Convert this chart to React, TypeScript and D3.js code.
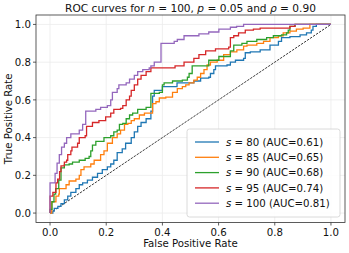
import React from "react";
import * as d3 from "d3";

// ROC knots: [fpr, tpr]; curve jumps up at each fpr
const roc80: [number, number][] = [
  [0, 0], [0.01, 0.01], [0.015, 0.025], [0.028, 0.035], [0.039, 0.05], [0.051, 0.07],
  [0.063, 0.09], [0.074, 0.11], [0.092, 0.13], [0.104, 0.15], [0.116, 0.16], [0.133, 0.175],
  [0.151, 0.19], [0.169, 0.21], [0.186, 0.23], [0.204, 0.245], [0.216, 0.26], [0.227, 0.28],
  [0.239, 0.32], [0.257, 0.34], [0.269, 0.37], [0.289, 0.4], [0.3, 0.43], [0.312, 0.46],
  [0.324, 0.48], [0.342, 0.5], [0.359, 0.54], [0.365, 0.62], [0.371, 0.65], [0.4, 0.67],
  [0.452, 0.69], [0.512, 0.7], [0.536, 0.715], [0.565, 0.72], [0.571, 0.74], [0.583, 0.76],
  [0.589, 0.78], [0.63, 0.785], [0.642, 0.8], [0.66, 0.81], [0.689, 0.82], [0.695, 0.85],
  [0.713, 0.855], [0.748, 0.865], [0.783, 0.89], [0.813, 0.91], [0.824, 0.93], [0.854, 0.935],
  [0.89, 0.945], [0.913, 0.955], [0.93, 0.97], [0.936, 0.99], [0.948, 1], [1, 1],
];
const roc85: [number, number][] = [
  [0, 0], [0.006, 0.06], [0.021, 0.09], [0.031, 0.1], [0.033, 0.13], [0.057, 0.15],
  [0.068, 0.17], [0.092, 0.18], [0.104, 0.2], [0.11, 0.23], [0.121, 0.245], [0.145, 0.26],
  [0.157, 0.28], [0.18, 0.31], [0.192, 0.33], [0.204, 0.37], [0.222, 0.4], [0.239, 0.42],
  [0.251, 0.44], [0.265, 0.47], [0.277, 0.475], [0.289, 0.49], [0.3, 0.5], [0.318, 0.52],
  [0.336, 0.53], [0.365, 0.58], [0.377, 0.59], [0.389, 0.61], [0.412, 0.615], [0.436, 0.64],
  [0.453, 0.66], [0.471, 0.67], [0.483, 0.68], [0.495, 0.69], [0.512, 0.705], [0.524, 0.72],
  [0.536, 0.74], [0.548, 0.76], [0.559, 0.785], [0.571, 0.8], [0.595, 0.81], [0.618, 0.84],
  [0.642, 0.855], [0.665, 0.865], [0.689, 0.885], [0.701, 0.89], [0.736, 0.9], [0.76, 0.91],
  [0.783, 0.93], [0.813, 0.94], [0.83, 0.955], [0.854, 0.965], [0.877, 0.975], [0.901, 0.98],
  [0.925, 1], [1, 1],
];
const roc90: [number, number][] = [
  [0, 0], [0, 0.02], [0.007, 0.06], [0.014, 0.1], [0.02, 0.13], [0.031, 0.175], [0.039, 0.24],
  [0.051, 0.255], [0.068, 0.26], [0.08, 0.27], [0.104, 0.28], [0.125, 0.29], [0.139, 0.3],
  [0.145, 0.33], [0.151, 0.36], [0.163, 0.38], [0.192, 0.4], [0.216, 0.41], [0.227, 0.43],
  [0.239, 0.44], [0.247, 0.47], [0.259, 0.475], [0.271, 0.5], [0.283, 0.52], [0.294, 0.53],
  [0.312, 0.55], [0.342, 0.56], [0.359, 0.635], [0.389, 0.64], [0.4, 0.68], [0.406, 0.69],
  [0.436, 0.7], [0.471, 0.705], [0.489, 0.72], [0.495, 0.74], [0.506, 0.78], [0.565, 0.81],
  [0.601, 0.83], [0.642, 0.86], [0.654, 0.89], [0.683, 0.9], [0.701, 0.91], [0.736, 0.92],
  [0.771, 0.93], [0.795, 0.94], [0.824, 0.945], [0.842, 0.955], [0.848, 0.97], [0.854, 0.99],
  [0.872, 1], [1, 1],
];
const roc95: [number, number][] = [
  [0, 0], [0, 0.09], [0.01, 0.11], [0.021, 0.16], [0.027, 0.18], [0.034, 0.22], [0.039, 0.25],
  [0.051, 0.27], [0.059, 0.28], [0.063, 0.31], [0.074, 0.33], [0.078, 0.35], [0.098, 0.37],
  [0.104, 0.4], [0.125, 0.41], [0.13, 0.46], [0.151, 0.48], [0.174, 0.49], [0.198, 0.51],
  [0.216, 0.53], [0.227, 0.55], [0.251, 0.555], [0.259, 0.57], [0.271, 0.6], [0.283, 0.62],
  [0.289, 0.65], [0.3, 0.68], [0.312, 0.71], [0.324, 0.73], [0.342, 0.75], [0.359, 0.77],
  [0.445, 0.78], [0.477, 0.8], [0.512, 0.82], [0.53, 0.84], [0.554, 0.86], [0.589, 0.87],
  [0.636, 0.88], [0.642, 0.93], [0.654, 0.94], [0.671, 0.955], [0.695, 0.97], [0.724, 0.975],
  [0.748, 0.98], [0.854, 0.99], [0.872, 1], [1, 1],
];
const roc100: [number, number][] = [
  [0, 0], [0, 0.16], [0.018, 0.21], [0.025, 0.265], [0.033, 0.31], [0.041, 0.35], [0.051, 0.37],
  [0.059, 0.4], [0.074, 0.42], [0.104, 0.44], [0.116, 0.47], [0.127, 0.54], [0.163, 0.55],
  [0.18, 0.56], [0.204, 0.57], [0.216, 0.6], [0.222, 0.64], [0.239, 0.66], [0.245, 0.68],
  [0.271, 0.69], [0.283, 0.71], [0.3, 0.73], [0.312, 0.75], [0.33, 0.76], [0.353, 0.77],
  [0.359, 0.78], [0.371, 0.8], [0.395, 0.9], [0.442, 0.91], [0.453, 0.92], [0.477, 0.94],
  [0.53, 0.95], [0.565, 0.96], [0.601, 0.975], [0.642, 0.985], [0.664, 0.99], [0.689, 1], [1, 1],
];

const sizes = [80, 85, 90, 95, 100];
const aucs = ["0.61", "0.65", "0.68", "0.74", "0.81"];
const curves = [roc80, roc85, roc90, roc95, roc100];
const colors = ["#1f77b4", "#ff7f0e", "#2ca02c", "#d62728", "#9467bd"];
const ticks = [0, 0.2, 0.4, 0.6, 0.8, 1.0];

const W = 349, H = 253;
const left = 36, right = 345, top = 15, bottom = 222.5;
const font = "DejaVu Sans, sans-serif";
const fs = 10.2;

export default function App() {
  const x = d3.scaleLinear().domain([-0.05, 1.05]).range([left, right]);
  const y = d3.scaleLinear().domain([-0.05, 1.05]).range([bottom, top]);
  const line = d3
    .line<[number, number]>()
    .x((d) => x(d[0]))
    .y((d) => y(d[1]))
    .curve(d3.curveStepAfter);

  const lg = { x: 187, y: 129, w: 153, h: 88, row: 15.3 };

  return (
    <svg width={W} height={H} style={{ position: "absolute", left: 0, top: 0 }} fontFamily={font}>
      <rect width={W} height={H} fill="#fff" />
      {ticks.map((t) => (
        <g key={"g" + t}>
          <line x1={x(t)} x2={x(t)} y1={top} y2={bottom} stroke="#ebebeb" strokeWidth={0.8} />
          <line x1={left} x2={right} y1={y(t)} y2={y(t)} stroke="#ebebeb" strokeWidth={0.8} />
        </g>
      ))}
      <line
        x1={x(0)} y1={y(0)} x2={x(1)} y2={y(1)}
        stroke="#222" strokeWidth={0.9} strokeDasharray="2.4,1.2"
      />
      {curves.map((c, i) => (
        <path key={i} d={line(c) ?? ""} fill="none" stroke={colors[i]} strokeWidth={1.3} />
      ))}
      <rect x={left} y={top} width={right - left} height={bottom - top} fill="none" stroke="#333" strokeWidth={0.8} />
      {ticks.map((t) => (
        <g key={"t" + t} fontSize={fs} fill="#111">
          <line x1={x(t)} x2={x(t)} y1={bottom} y2={bottom + 3} stroke="#333" strokeWidth={0.8} />
          <text x={x(t)} y={bottom + 13} textAnchor="middle">{t.toFixed(1)}</text>
          <line x1={left - 3} x2={left} y1={y(t)} y2={y(t)} stroke="#333" strokeWidth={0.8} />
          <text x={left - 5} y={y(t) + 3.7} textAnchor="end">{t.toFixed(1)}</text>
        </g>
      ))}
      <text x={(left + right) / 2} y={12} textAnchor="middle" fontSize={10.6} fill="#111">
        ROC curves for <tspan fontStyle="italic">n</tspan> = 100, <tspan fontStyle="italic">p</tspan> = 0.05 and{" "}
        <tspan fontStyle="italic">ρ</tspan> = 0.90
      </text>
      <text x={(left + right) / 2} y={247} textAnchor="middle" fontSize={fs} fill="#111">
        False Positive Rate
      </text>
      <text
        transform={`translate(12,${(top + bottom) / 2}) rotate(-90)`}
        textAnchor="middle" fontSize={fs} fill="#111"
      >
        True Positive Rate
      </text>
      <rect x={lg.x} y={lg.y} width={lg.w} height={lg.h} rx={2.5} fill="#fff" fillOpacity={0.85} stroke="#d0d0d0" strokeWidth={0.8} />
      {sizes.map((s, i) => {
        const cy = lg.y + 13 + i * lg.row;
        return (
          <g key={"l" + s}>
            <line x1={lg.x + 8} x2={lg.x + 32} y1={cy} y2={cy} stroke={colors[i]} strokeWidth={1.3} />
            <text x={lg.x + 39} y={cy + 3.7} fontSize={fs} fill="#111">
              <tspan fontStyle="italic">s</tspan> = {s} (AUC={aucs[i]})
            </text>
          </g>
        );
      })}
    </svg>
  );
}
